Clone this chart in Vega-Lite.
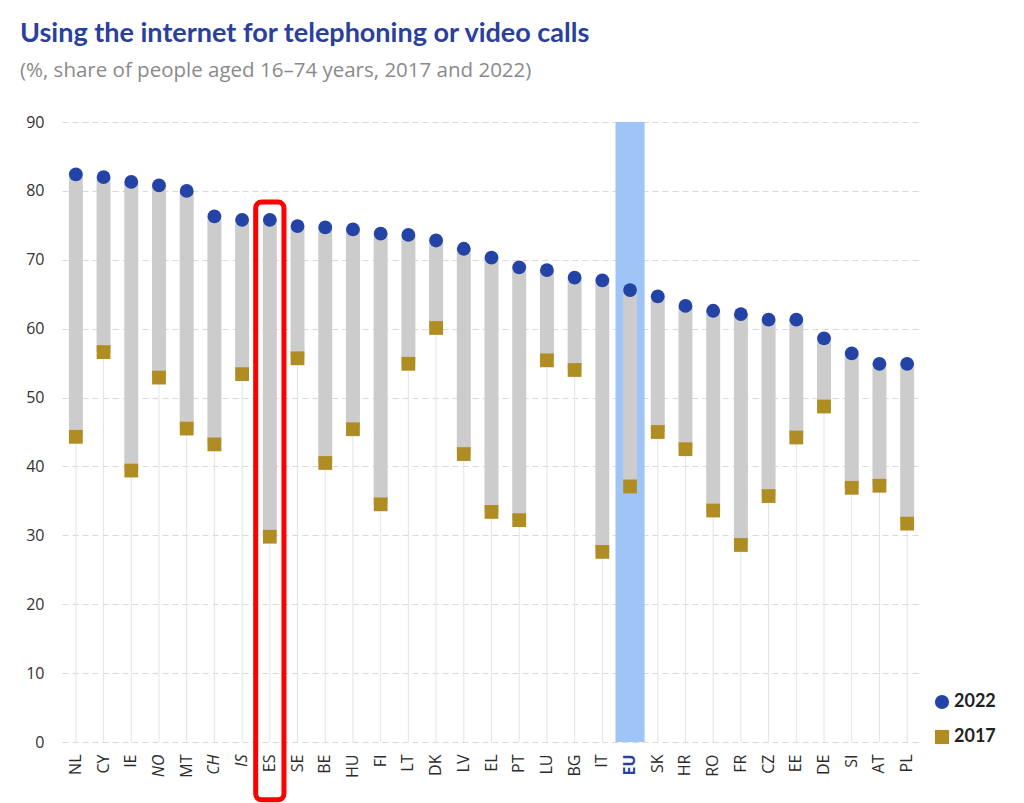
{
  "$schema": "https://vega.github.io/schema/vega-lite/v6.json",
  "autosize": "none",
  "width": 859,
  "height": 620,
  "padding": {"left": 62, "top": 122, "right": 103, "bottom": 61},
  "background": "white",
  "config": {"view": {"stroke": null}, "font": "Lato"},
  "title": {
    "text": "Using the internet for telephoning or video calls",
    "subtitle": "(%, share of people aged 16–74 years, 2017 and 2022)",
    "anchor": "start",
    "frame": "group",
    "dx": -42,
    "offset": 32,
    "font": "Lato",
    "fontSize": 27,
    "fontWeight": "bold",
    "color": "#2a3f9e",
    "subtitleFont": "Open Sans",
    "subtitleFontSize": 20.5,
    "subtitleColor": "#8a8a8a",
    "subtitlePadding": 13
  },
  "data": {
    "values": [
      {"country": "NL", "y2022": 82.4, "y2017": 44.3},
      {"country": "CY", "y2022": 82.0, "y2017": 56.6},
      {"country": "IE", "y2022": 81.3, "y2017": 39.4},
      {"country": "NO", "y2022": 80.8, "y2017": 52.9},
      {"country": "MT", "y2022": 80.0, "y2017": 45.5},
      {"country": "CH", "y2022": 76.3, "y2017": 43.2},
      {"country": "IS", "y2022": 75.8, "y2017": 53.4},
      {"country": "ES", "y2022": 75.8, "y2017": 29.8},
      {"country": "SE", "y2022": 74.9, "y2017": 55.7},
      {"country": "BE", "y2022": 74.7, "y2017": 40.5},
      {"country": "HU", "y2022": 74.4, "y2017": 45.4},
      {"country": "FI", "y2022": 73.8, "y2017": 34.5},
      {"country": "LT", "y2022": 73.6, "y2017": 54.9},
      {"country": "DK", "y2022": 72.8, "y2017": 60.1},
      {"country": "LV", "y2022": 71.6, "y2017": 41.8},
      {"country": "EL", "y2022": 70.3, "y2017": 33.4},
      {"country": "PT", "y2022": 68.9, "y2017": 32.2},
      {"country": "LU", "y2022": 68.5, "y2017": 55.4},
      {"country": "BG", "y2022": 67.4, "y2017": 54.0},
      {"country": "IT", "y2022": 67.0, "y2017": 27.6},
      {"country": "EU", "y2022": 65.6, "y2017": 37.1},
      {"country": "SK", "y2022": 64.7, "y2017": 45.0},
      {"country": "HR", "y2022": 63.3, "y2017": 42.5},
      {"country": "RO", "y2022": 62.6, "y2017": 33.6},
      {"country": "FR", "y2022": 62.1, "y2017": 28.6},
      {"country": "CZ", "y2022": 61.3, "y2017": 35.7},
      {"country": "EE", "y2022": 61.3, "y2017": 44.2},
      {"country": "DE", "y2022": 58.6, "y2017": 48.7},
      {"country": "SI", "y2022": 56.4, "y2017": 36.9},
      {"country": "AT", "y2022": 54.9, "y2017": 37.2},
      {"country": "PL", "y2022": 54.9, "y2017": 31.7}
    ]
  },
  "encoding": {
    "x": {
      "field": "country",
      "type": "nominal",
      "sort": null,
      "scale": {"paddingInner": 0, "paddingOuter": 0},
      "axis": {
        "title": null,
        "domain": false,
        "ticks": false,
        "labelAngle": -90,
        "labelPadding": 12,
        "labelFontSize": 16,
        "labelFont": "Open Sans",
        "labelColor": {"condition": {"test": "datum.value === 'EU'", "value": "#2a3f9e"}, "value": "#2b2b2b"},
        "labelFontWeight": {"condition": {"test": "datum.value === 'EU'", "value": "bold"}, "value": "normal"},
        "labelFontStyle": {"condition": {"test": "indexof(['NO','CH','IS'], datum.value) >= 0", "value": "italic"}, "value": "normal"}
      }
    }
  },
  "layer": [
    {
      "mark": {"type": "rule", "color": "#e3e3e3", "strokeWidth": 1},
      "encoding": {
        "y": {
          "field": "y2017",
          "type": "quantitative",
          "scale": {"domain": [0, 90], "nice": false},
          "axis": {
            "title": null,
            "domain": false,
            "ticks": false,
            "values": [0, 10, 20, 30, 40, 50, 60, 70, 80, 90],
            "labelFontSize": 16,
            "labelFont": "Open Sans",
            "labelColor": "#333333",
            "labelPadding": 18,
            "grid": true,
            "gridDash": [6, 4],
            "gridColor": "#d9d9d9",
            "gridWidth": 1.2
          }
        },
        "y2": {"datum": 0}
      }
    },
    {
      "transform": [{"filter": "datum.country === 'EU'"}],
      "mark": {"type": "bar", "color": "#9fc4f6", "width": {"band": 1.05}},
      "encoding": {
        "y": {"datum": 90, "type": "quantitative"},
        "y2": {"datum": 0}
      }
    },
    {
      "mark": {"type": "rule", "color": "#cccccc", "strokeWidth": 14},
      "encoding": {
        "y": {"field": "y2017", "type": "quantitative"},
        "y2": {"field": "y2022"}
      }
    },
    {
      "transform": [{"fold": ["y2022", "y2017"], "as": ["key", "value"]}],
      "mark": {"type": "point", "filled": true, "opacity": 1, "size": 190},
      "encoding": {
        "y": {"field": "value", "type": "quantitative"},
        "color": {
          "field": "key",
          "type": "nominal",
          "scale": {"domain": ["y2022", "y2017"], "range": ["#2343a6", "#b08d22"]},
          "legend": {
            "title": null,
            "orient": "none",
            "legendX": 871,
            "legendY": 571,
            "labelExpr": "datum.value === 'y2022' ? '2022' : '2017'",
            "labelFont": "Lato",
            "labelFontSize": 18,
            "labelFontWeight": "bold",
            "labelColor": "#222222",
            "symbolSize": 200,
            "symbolOpacity": 1,
            "rowPadding": 13,
            "labelOffset": 3
          }
        },
        "shape": {
          "field": "key",
          "type": "nominal",
          "scale": {"domain": ["y2022", "y2017"], "range": ["circle", "square"]}
        }
      }
    },
    {
      "transform": [{"filter": "datum.country === 'ES'"}],
      "mark": {"type": "rect", "fill": "transparent", "stroke": "#ff0000", "strokeWidth": 5, "cornerRadius": 6, "width": {"band": 1.02}},
      "encoding": {
        "y": {"datum": 78.4, "type": "quantitative"},
        "y2": {"datum": -8.4}
      }
    }
  ]
}
